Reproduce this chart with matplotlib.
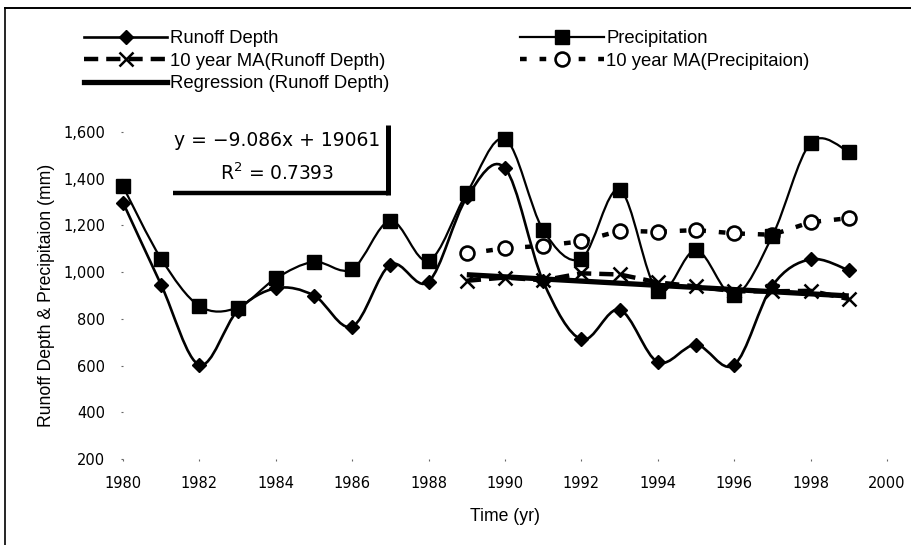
import numpy as np
import matplotlib.pyplot as plt
from matplotlib.lines import Line2D
from matplotlib.path import Path
from matplotlib.patches import PathPatch
from matplotlib.ticker import FuncFormatter

# annual series (mm)
years = list(range(1980, 2000))
runoff = [1298, 945, 603, 835, 931, 900, 767, 1032, 959, 1320,
          1445, 960, 712, 839, 615, 689, 603, 942, 1055, 1008]
precip = [1367, 1057, 855, 848, 973, 1044, 1013, 1220, 1049, 1339,
          1570, 1180, 1058, 1353, 920, 1094, 902, 1155, 1553, 1516]

# 10 year moving averages
ma_years = list(range(1989, 2000))
ma_runoff = [963, 977, 965, 995, 990, 956, 939, 918, 918, 920, 885]
ma_precip = [1080, 1102, 1113, 1132, 1177, 1173, 1180, 1166, 1160, 1214, 1231]

# linear trend of runoff depth
reg_slope = -9.086
reg_intercept = 19061
r_squared = 0.7393
reg_years = [1989, 1999]

W, H = 911, 545
LABEL_FONT = ["Liberation Sans", "DejaVu Sans"]


def smooth_path(xs, ys):
    # Catmull-Rom style cubic bezier through every point
    pts = np.column_stack([xs, ys]).astype(float)
    padded = np.vstack([pts[0], pts, pts[-1]])
    verts = [pts[0]]
    codes = [Path.MOVETO]
    for i in range(len(pts) - 1):
        p0, p1, p2, p3 = padded[i], padded[i + 1], padded[i + 2], padded[i + 3]
        verts += [p1 + (p2 - p0) / 6, p2 - (p3 - p1) / 6, p2]
        codes += [Path.CURVE4] * 3
    return Path(verts, codes)


def px(x, y):
    return x / W, 1 - y / H


fig = plt.figure(figsize=(W / 100, H / 100), dpi=100)
left, top = px(123, 132)
right, bottom = px(887, 459)
ax = fig.add_axes([left, bottom, right - left, top - bottom])

# smoothed annual lines
ax.add_patch(PathPatch(smooth_path(years, runoff), fill=False, lw=1.9,
                       edgecolor="black", zorder=2, clip_on=False))
ax.plot(years, runoff, ls="none", marker="D", ms=7, color="black",
        zorder=2.1, clip_on=False)

ax.plot(ma_years, ma_precip, color="black", lw=3.2, dashes=(1.5, 2.9),
        dash_capstyle="butt", marker="o", ms=10, mfc="white", mec="black",
        mew=1.9, zorder=3, clip_on=False)

ax.add_patch(PathPatch(smooth_path(years, precip), fill=False, lw=1.6,
                       edgecolor="black", zorder=4, clip_on=False))
ax.plot(years, precip, ls="none", marker="s", ms=9.5, color="black",
        zorder=4.1, clip_on=False)

ax.plot(ma_years, ma_runoff, color="black", lw=3.2, dashes=(3.2, 1.8),
        dash_capstyle="butt", marker="x", ms=10.5, mew=1.8, zorder=5,
        clip_on=False)

reg_vals = [reg_slope * y + reg_intercept for y in reg_years]
ax.plot(reg_years, reg_vals, color="black", lw=3.8, zorder=6,
        solid_capstyle="butt")

ax.set_xlim(1980, 2000)
ax.set_ylim(200, 1600)
ax.set_xticks(range(1980, 2001, 2))
ax.set_yticks(range(200, 1601, 200))
ax.yaxis.set_major_formatter(FuncFormatter(lambda v, p: f"{v:,.0f}"))
for s in ax.spines.values():
    s.set_visible(False)
ax.tick_params(axis="both", length=1.5, width=0.8, color="#666666",
               labelsize=10.5, labelcolor="black")
ax.tick_params(axis="y", pad=11.5)
ax.tick_params(axis="x", pad=11)
for lab in ax.get_xticklabels() + ax.get_yticklabels():
    lab.set_fontfamily("DejaVu Sans")

ax.set_xlabel("Time (yr)", family=LABEL_FONT, fontsize=12.7, labelpad=12)
ax.set_ylabel("Runoff Depth & Precipitaion (mm)", family=LABEL_FONT,
              fontsize=12.7, labelpad=6)

# trendline label with shadow edges
x0, y0 = px(277, 141)
fig.text(x0, y0, f"y = \u2212{abs(reg_slope):.3f}x + {reg_intercept}",
         ha="center", va="center", family="DejaVu Sans", fontsize=13.5)
x1, y1 = px(277, 173)
fig.text(x1, y1, f"R$^2$ = {r_squared}", ha="center", va="center",
         family="DejaVu Sans", fontsize=13.5)
fig.add_artist(Line2D([173 / W, 388 / W], [1 - 193 / H] * 2, lw=3.2,
                      color="black", transform=fig.transFigure,
                      solid_capstyle="butt"))
fig.add_artist(Line2D([388 / W] * 2, [1 - 125 / H, 1 - 194.5 / H], lw=3.6,
                      color="black", transform=fig.transFigure,
                      solid_capstyle="butt"))

# outer chart frame (top and left edges)
fig.add_artist(Line2D([5 / W, 1], [1 - 8 / H] * 2, lw=1.4, color="black",
                      transform=fig.transFigure))
fig.add_artist(Line2D([5 / W] * 2, [1 - 8 / H, 0], lw=1.2, color="black",
                      transform=fig.transFigure))

handles = [
    Line2D([], [], color="black", lw=1.9, marker="D", ms=7),
    Line2D([], [], color="black", lw=3.2, dashes=(3.2, 1.8), marker="x",
           ms=10.5, mew=1.8),
    Line2D([], [], color="black", lw=3.8),
    Line2D([], [], color="black", lw=1.6, marker="s", ms=9.5),
    Line2D([], [], color="black", lw=3.2, dashes=(1.5, 2.9), marker="o",
           ms=10, mfc="white", mec="black", mew=1.9),
]
labels = ["Runoff Depth", "10 year MA(Runoff Depth)",
          "Regression (Runoff Depth)", "Precipitation",
          "10 year MA(Precipitaion)"]
fig.legend(handles, labels, loc="upper left", bbox_to_anchor=px(84, 30),
           ncol=2, frameon=False, borderpad=0, borderaxespad=0,
           handlelength=4.5, handletextpad=0.15, columnspacing=7.1,
           labelspacing=0.3, prop={"family": LABEL_FONT, "size": 13.3})

fig.savefig("out.png", dpi=100)
